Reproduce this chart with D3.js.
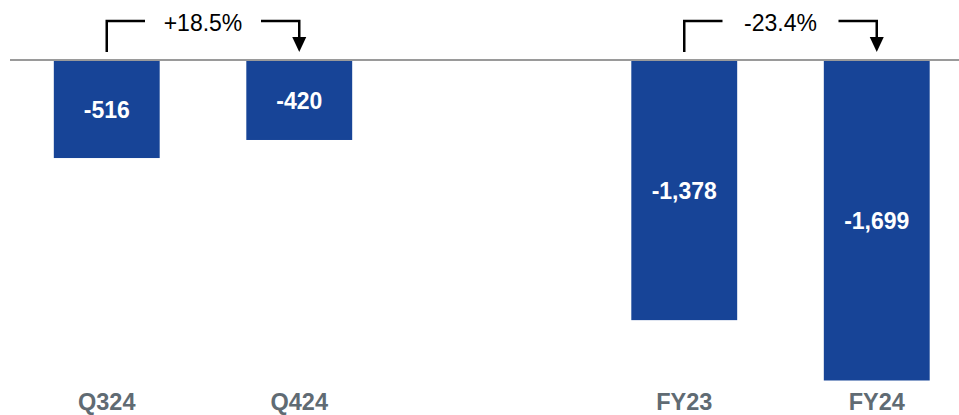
<!DOCTYPE html>
<html>
<head>
<meta charset="utf-8">
<script src="https://cdn.jsdelivr.net/npm/d3@7"></script>
<style>
  body { margin: 0; background: #fff; }
  svg { display: block; font-family: "Liberation Sans", Arial, sans-serif; }
</style>
</head>
<body>
<svg id="chart" width="959" height="415"></svg>
<script>
// chart data
var categories = ['Q324', 'Q424', 'FY23', 'FY24'];
var values = [-516, -420, -1378, -1699];
var valueLabels = ['-516', '-420', '-1,378', '-1,699'];
// change annotations: from -> to
var changeFrom = ['Q324', 'FY23'];
var changeTo = ['Q424', 'FY24'];
var changeLabels = ['+18.5%', '-23.4%'];

var width = 959, height = 415;
var svg = d3.select('#chart');

// empty slot between the quarter and the full-year groups
var slots = ['Q324', 'Q424', '_gap', 'FY23', 'FY24'];

var x = d3.scaleBand()
    .domain(slots)
    .range([10.5, 973])
    .paddingInner(0.45)
    .paddingOuter(0.225);

var y = d3.scaleLinear()
    .domain([0, -1699])
    .range([61, 380.5]);

var data = categories.map(function(c, i) {
    return { cat: c, value: values[i], label: valueLabels[i] };
});

// bars
svg.selectAll('rect.bar')
    .data(data)
    .enter()
    .append('rect')
    .attr('class', 'bar')
    .attr('fill', '#174497')
    .attr('x', function(d) { return x(d.cat); })
    .attr('width', x.bandwidth())
    .attr('y', y(0))
    .attr('height', function(d) { return y(d.value) - y(0); });

// baseline
svg.append('line')
    .attr('x1', 10).attr('x2', width)
    .attr('y1', y(0) - 1).attr('y2', y(0) - 1)
    .attr('stroke', '#9a9a9a')
    .attr('stroke-width', 2);

// value labels inside bars
svg.selectAll('text.val')
    .data(data)
    .enter()
    .append('text')
    .attr('class', 'val')
    .attr('x', function(d) { return x(d.cat) + x.bandwidth() / 2; })
    .attr('y', function(d) { return (y(0) + y(d.value)) / 2; })
    .attr('dy', '0.36em')
    .attr('text-anchor', 'middle')
    .attr('fill', '#fff')
    .attr('font-weight', 'bold')
    .attr('font-size', 23)
    .text(function(d) { return d.label; });

// category labels
svg.selectAll('text.cat')
    .data(categories)
    .enter()
    .append('text')
    .attr('class', 'cat')
    .attr('x', function(d) { return x(d) + x.bandwidth() / 2; })
    .attr('y', 410)
    .attr('text-anchor', 'middle')
    .attr('fill', '#606b73')
    .attr('font-weight', 'bold')
    .attr('font-size', 23.5)
    .text(function(d) { return d; });

// change brackets with arrow
var topY = 21, bottomY = 52, gapHalf = 58;
changeLabels.forEach(function(lbl, i) {
    var x1 = x(changeFrom[i]) + x.bandwidth() / 2;
    var x2 = x(changeTo[i]) + x.bandwidth() / 2;
    var mid = (x1 + x2) / 2;
    var g = svg.append('g');

    g.append('path')
        .attr('d', 'M' + x1 + ',' + bottomY + 'V' + topY + 'H' + (mid - gapHalf))
        .attr('fill', 'none')
        .attr('stroke', '#000')
        .attr('stroke-width', 2.5);

    g.append('path')
        .attr('d', 'M' + (mid + gapHalf) + ',' + topY + 'H' + x2 + 'V' + (bottomY - 12))
        .attr('fill', 'none')
        .attr('stroke', '#000')
        .attr('stroke-width', 2.5);

    g.append('path')
        .attr('d', 'M' + (x2 - 7) + ',' + (bottomY - 15) + 'L' + (x2 + 7) + ',' + (bottomY - 15) + 'L' + x2 + ',' + bottomY + 'Z')
        .attr('fill', '#000');

    g.append('text')
        .attr('x', mid)
        .attr('y', 30.5)
        .attr('text-anchor', 'middle')
        .attr('font-size', 23)
        .attr('fill', '#000')
        .text(lbl);
});
</script>
</body>
</html>
